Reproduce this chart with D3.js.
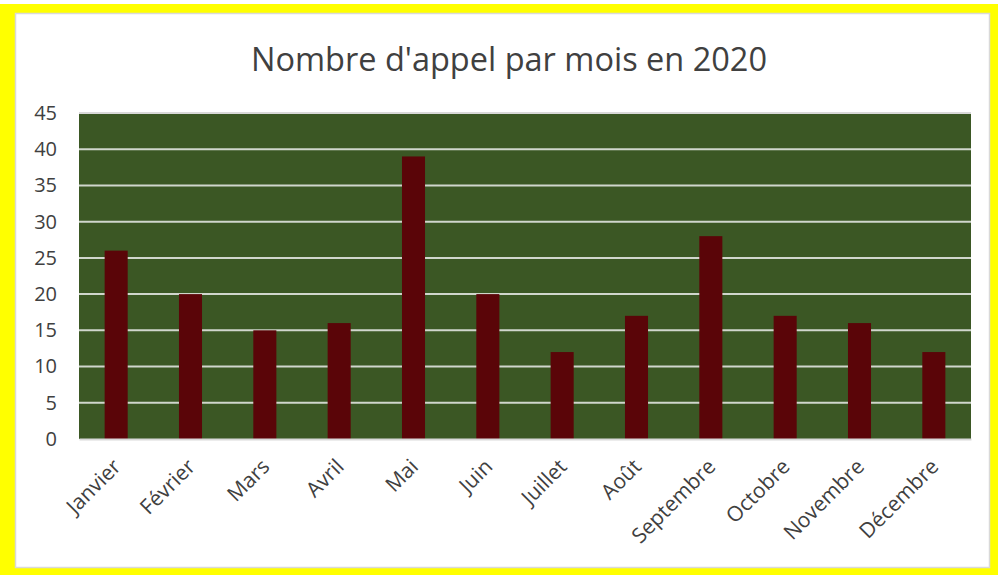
<!DOCTYPE html>
<html>
<head>
<meta charset="utf-8">
<script src="https://cdn.jsdelivr.net/npm/d3@7"></script>
<style>
  body { margin: 0; background: #ffffff; }
  svg { display: block; }
</style>
</head>
<body>
<div id="chart"></div>
<script>
// données
const mois = ["Janvier", "Février", "Mars", "Avril", "Mai", "Juin", "Juillet", "Août", "Septembre", "Octobre", "Novembre", "Décembre"]
const appels = [26, 20, 15, 16, 39, 20, 12, 17, 28, 17, 16, 12]
const yTicks = [0, 5, 10, 15, 20, 25, 30, 35, 40, 45]
const titre = "Nombre d'appel par mois en 2020"

const W = 998, H = 575
const margin = { top: 113, right: 27, bottom: 136, left: 79 },
    width = W - margin.left - margin.right,
    height = H - margin.top - margin.bottom;

const root = d3.select("#chart").append("svg")
    .attr("width", W)
    .attr("height", H)

// cadre jaune + fond blanc
root.append("rect").attr("x", 0).attr("y", 4).attr("width", W).attr("height", H - 4).attr("fill", "#ffff00")
root.append("rect").attr("x", 15.5).attr("y", 13.5).attr("width", 974).attr("height", 554)
    .attr("fill", "#ffffff").attr("stroke", "#d9d9d9").attr("stroke-width", 1.5)

root.append("text")
    .attr("x", 509).attr("y", 71)
    .attr("text-anchor", "middle")
    .attr("font-family", "Open Sans, sans-serif")
    .attr("font-size", 32.5)
    .attr("fill", "#404040")
    .text(titre)

const svg = root.append("g").attr("transform", `translate(${margin.left},${margin.top})`)

const xScale = d3.scaleBand().domain(mois).range([0, width]).paddingInner(0.69).paddingOuter(0.345)
const yScale = d3.scaleLinear().domain([0, 45]).range([height, 0])

// fond vert de la zone de traçage
svg.append("rect").attr("x", 0).attr("y", 0).attr("width", width).attr("height", height).attr("fill", "#3b5724")

// quadrillage
svg.append("g").selectAll("line")
    .data(yTicks.filter(t => t > 0))
    .enter().append("line")
    .attr("x1", 0).attr("x2", width)
    .attr("y1", d => yScale(d)).attr("y2", d => yScale(d))
    .attr("stroke", d => d == 45 ? "#d9d9d9" : "#d0d6cc")
    .attr("stroke-width", 2)

// barres
svg.append("g").selectAll("rect")
    .data(appels)
    .enter().append("rect")
    .attr("x", (d, i) => xScale(mois[i]))
    .attr("y", d => yScale(d))
    .attr("width", xScale.bandwidth())
    .attr("height", d => height - yScale(d))
    .attr("fill", "#5a0508")

// axe y
const yAxis = d3.axisLeft(yScale).tickValues(yTicks).tickSize(0).tickPadding(22)
svg.append("g").call(yAxis)
    .call(g => g.select(".domain").remove())
    .selectAll("text")
    .attr("font-family", "Open Sans, sans-serif")
    .attr("font-size", 20)
    .attr("fill", "#404040")

// axe x
const xAxis = d3.axisBottom(xScale).tickSize(0)
const gx = svg.append("g").attr("transform", `translate(0,${height})`).call(xAxis)
gx.select(".domain").attr("stroke", "#d9d9d9").attr("stroke-width", 2)
gx.selectAll("text")
    .attr("font-family", "Open Sans, sans-serif")
    .attr("font-size", 21)
    .attr("fill", "#404040")
    .attr("text-anchor", "end")
    .attr("dy", null)
    .attr("dx", null)
    .attr("y", 0)
    .attr("transform", "translate(6,29) rotate(-45)")
</script>
</body>
</html>
